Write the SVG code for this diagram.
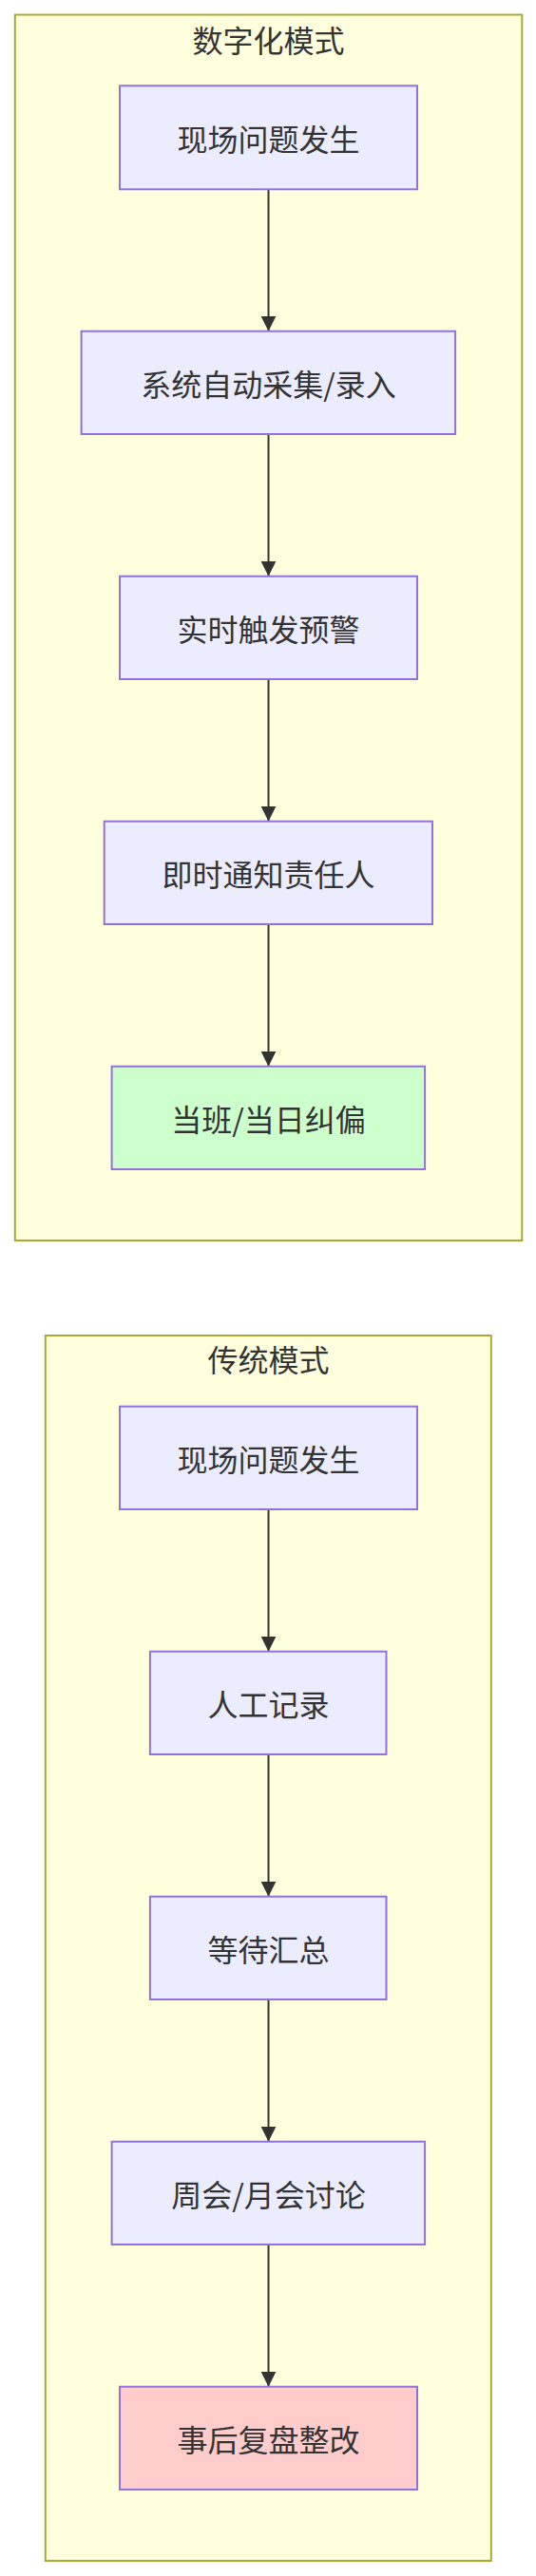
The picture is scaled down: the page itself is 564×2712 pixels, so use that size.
<svg xmlns="http://www.w3.org/2000/svg" width="564" height="2712" viewBox="0 0 564 2712">
<style>
.cluster{fill:#ffffde;stroke:#aaaa33;stroke-width:2}
.node{fill:#ECECFF;stroke:#9370DB;stroke-width:2}
.ok{fill:#ccffcc}
.bad{fill:#ffcccc}
.lbl{font-family:"Noto Sans CJK SC","Noto Sans",sans-serif;font-size:32px;fill:#333;text-anchor:middle;dominant-baseline:central}
.edge{stroke:#333;stroke-width:2;fill:none}
</style>
<defs>
<marker id="arrow" markerUnits="userSpaceOnUse" viewBox="0 0 16 16" refX="16" refY="8" markerWidth="16" markerHeight="16" orient="auto">
<path d="M0,0 L16,8 L0,16 z" fill="#333"/>
</marker>
</defs>
<rect width="564" height="2712" fill="#ffffff"/>
<g id="cluster-digital">
<rect class="cluster" x="15.8" y="15.5" width="533.5" height="1290.5"/>
<text class="lbl" x="282.5" y="41">数字化模式</text>
</g>
<g id="cluster-traditional">
<rect class="cluster" x="47.8" y="1406" width="469" height="1290"/>
<text class="lbl" x="282.5" y="1430">传统模式</text>
</g>
<g id="edges">
<line class="edge" x1="282.5" y1="199.3" x2="282.5" y2="348.7" marker-end="url(#arrow)"/>
<line class="edge" x1="282.5" y1="457" x2="282.5" y2="606.7" marker-end="url(#arrow)"/>
<line class="edge" x1="282.5" y1="715" x2="282.5" y2="864.7" marker-end="url(#arrow)"/>
<line class="edge" x1="282.5" y1="973" x2="282.5" y2="1122.7" marker-end="url(#arrow)"/>
<line class="edge" x1="282.5" y1="1589" x2="282.5" y2="1738.7" marker-end="url(#arrow)"/>
<line class="edge" x1="282.5" y1="1847" x2="282.5" y2="1996.7" marker-end="url(#arrow)"/>
<line class="edge" x1="282.5" y1="2105" x2="282.5" y2="2254.7" marker-end="url(#arrow)"/>
<line class="edge" x1="282.5" y1="2363" x2="282.5" y2="2512.7" marker-end="url(#arrow)"/>
</g>
<g id="d1"><rect class="node" x="126" y="90.3" width="313" height="109"/><text class="lbl" x="282.5" y="144.8">现场问题发生</text></g>
<g id="d2"><rect class="node" x="85.6" y="348.7" width="393.5" height="108.3"/><text class="lbl" x="282.5" y="402.8">系统自动采集/录入</text></g>
<g id="d3"><rect class="node" x="126" y="606.7" width="313" height="108.3"/><text class="lbl" x="282.5" y="660.8">实时触发预警</text></g>
<g id="d4"><rect class="node" x="109.7" y="864.7" width="345.3" height="108.3"/><text class="lbl" x="282.5" y="918.8">即时通知责任人</text></g>
<g id="d5"><rect class="node ok" x="117.6" y="1122.7" width="329.5" height="108.3"/><text class="lbl" x="282.5" y="1176.8">当班/当日纠偏</text></g>
<g id="t1"><rect class="node" x="126" y="1480.7" width="313" height="108.3"/><text class="lbl" x="282.5" y="1534.8">现场问题发生</text></g>
<g id="t2"><rect class="node" x="157.9" y="1738.7" width="248.6" height="108.3"/><text class="lbl" x="282.5" y="1792.8">人工记录</text></g>
<g id="t3"><rect class="node" x="157.9" y="1996.7" width="248.6" height="108.3"/><text class="lbl" x="282.5" y="2050.8">等待汇总</text></g>
<g id="t4"><rect class="node" x="117.6" y="2254.7" width="329.5" height="108.3"/><text class="lbl" x="282.5" y="2308.8">周会/月会讨论</text></g>
<g id="t5"><rect class="node bad" x="126" y="2512.7" width="313" height="108.3"/><text class="lbl" x="282.5" y="2566.8">事后复盘整改</text></g>
</svg>
